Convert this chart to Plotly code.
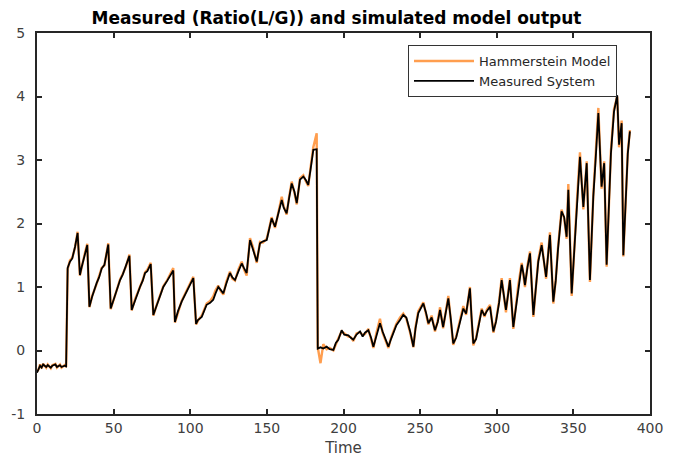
import plotly.graph_objects as go

# ---- data ----
time = [
    0, 1, 2, 3, 4, 6, 7, 9, 10, 12, 13, 15, 16, 18, 19,
    20, 21.5, 23, 24.8, 26.5, 28, 29, 30.2, 31.5, 32.8, 34.2, 36, 38.9, 40.5, 42.2, 44, 46.5, 48.1,
    50, 52, 54.2, 56, 58, 60.3, 61.8, 64, 67.2, 69, 70.5, 72, 74.2, 75.9, 78, 80, 82.4, 85, 87, 88.9, 90,
    92, 94.4, 96, 98, 100, 102, 103.8, 105, 107.5, 109, 110.7, 113, 115, 116.5, 118.3, 120, 121.6, 123.5, 125.9, 127.5, 129.2, 131.5, 133.6, 135, 136.8, 139,
    141, 143.4, 145.5, 147.5, 149.9, 151.5, 153.1, 155.3, 157.5, 159.7, 161, 162.9, 164.5, 166.2, 168, 169.5, 171.6, 173.8, 175.5, 177, 178.5, 180.3, 182.5,
    183.2, 185, 186.8, 189, 191, 193.4, 195, 196.6, 198.8, 200.5, 203.2, 204.8, 206.4, 208.5, 210.8, 212.5, 214, 216.2, 218, 219.5, 221.5, 223.8, 225.5, 227, 229.3, 231, 232.5, 234.5, 236.9, 239, 241, 243.5, 245.6,
    247, 248.8, 250.5, 252.1, 253.8, 255.4, 257.5, 259.7, 261.5, 263, 265, 266.5, 268.4, 270, 271.6, 273.5, 275.5, 278.2, 280, 281, 282.5, 283.5, 284.7, 286.5, 288.5, 290.2, 292, 293.5, 295.6, 297.8, 299.5,
    301.5, 303.2, 304.5, 306, 307.5, 308.6, 310.8, 312.5, 314, 316.3, 317.5, 318.4, 320, 321.7, 323.9, 325.5, 327.1, 329.3, 330.5, 332.2, 334.7, 336.9, 338.5, 340, 342.3, 344, 345.6,
    346.7, 348.9, 350.5, 352.5, 354.3, 356.5, 358.7, 360.8, 363, 364.5, 366.3, 368.4, 370.1, 371.7, 373, 374.5, 376.5, 378.6, 379.8, 381.5, 382.6, 384, 385.5, 386.9,
]

measured = [
    -0.35, -0.28, -0.24, -0.27, -0.22, -0.26, -0.23, -0.27, -0.24, -0.22, -0.26, -0.23, -0.26, -0.24, -0.25,
    1.30, 1.40, 1.45, 1.63, 1.85, 1.19, 1.30, 1.43, 1.55, 1.66, 0.69, 0.85, 1.06, 1.15, 1.29, 1.35, 1.67, 0.66,
    0.80, 0.95, 1.11, 1.20, 1.33, 1.49, 0.64, 0.80, 1.00, 1.10, 1.22, 1.25, 1.36, 0.56, 0.70, 0.85, 1.00, 1.10, 1.18, 1.26, 0.45,
    0.62, 0.77, 0.85, 0.95, 1.05, 1.14, 0.42, 0.48, 0.53, 0.62, 0.72, 0.75, 0.80, 0.90, 1.00, 0.95, 0.90, 1.05, 1.22, 1.15, 1.11, 1.25, 1.37, 1.30, 1.22, 1.74,
    1.60, 1.40, 1.69, 1.72, 1.74, 1.90, 2.08, 1.95, 2.15, 2.37, 2.25, 2.16, 2.40, 2.63, 2.50, 2.32, 2.69, 2.74, 2.68, 2.61, 2.85, 3.16, 3.17,
    0.03, 0.05, 0.03, 0.06, 0.02, 0.01, 0.12, 0.17, 0.32, 0.25, 0.24, 0.20, 0.17, 0.25, 0.30, 0.22, 0.28, 0.32, 0.20, 0.06, 0.25, 0.43, 0.30, 0.20, 0.06, 0.18, 0.27, 0.40, 0.48, 0.56, 0.52, 0.30, 0.06,
    0.35, 0.59, 0.68, 0.74, 0.60, 0.43, 0.52, 0.32, 0.45, 0.64, 0.37, 0.55, 0.82, 0.50, 0.11, 0.20, 0.40, 0.66, 0.58, 0.75, 0.98, 0.55, 0.11, 0.18, 0.45, 0.64, 0.55, 0.62, 0.69, 0.30, 0.45,
    0.75, 1.11, 0.90, 0.64, 0.90, 1.11, 0.37, 0.70, 1.00, 1.35, 1.20, 1.03, 1.30, 1.53, 0.56, 1.00, 1.40, 1.66, 1.45, 1.16, 1.82, 0.77, 1.10, 1.60, 2.19, 2.10, 1.79,
    2.53, 0.90, 1.60, 2.40, 3.05, 2.26, 2.95, 1.11, 2.42, 3.00, 3.74, 2.58, 2.95, 1.35, 2.10, 3.10, 3.76, 4.02, 3.24, 3.58, 1.50, 2.30, 3.10, 3.45,
]

model = [
    -0.33, -0.30, -0.22, -0.28, -0.21, -0.27, -0.22, -0.28, -0.23, -0.21, -0.27, -0.22, -0.27, -0.23, -0.26,
    1.28, 1.42, 1.46, 1.62, 1.87, 1.18, 1.31, 1.42, 1.56, 1.68, 0.68, 0.86, 1.05, 1.16, 1.30, 1.34, 1.69, 0.65,
    0.81, 0.94, 1.12, 1.21, 1.32, 1.51, 0.63, 0.81, 0.99, 1.11, 1.23, 1.27, 1.38, 0.55, 0.71, 0.84, 1.01, 1.11, 1.20, 1.30, 0.44,
    0.61, 0.78, 0.86, 0.96, 1.06, 1.16, 0.41, 0.47, 0.55, 0.64, 0.74, 0.78, 0.85, 0.95, 1.02, 0.93, 0.88, 1.08, 1.24, 1.13, 1.10, 1.28, 1.40, 1.28, 1.18, 1.77,
    1.62, 1.38, 1.71, 1.70, 1.76, 1.92, 2.10, 1.93, 2.17, 2.42, 2.27, 2.14, 2.42, 2.66, 2.48, 2.30, 2.71, 2.76, 2.66, 2.59, 2.88, 3.20, 3.42,
    0.05, -0.20, 0.10, 0.02, 0.04, 0.00, 0.10, 0.19, 0.30, 0.27, 0.22, 0.21, 0.15, 0.27, 0.29, 0.24, 0.26, 0.34, 0.18, 0.04, 0.28, 0.50, 0.28, 0.18, 0.04, 0.20, 0.29, 0.42, 0.52, 0.58, 0.50, 0.28, 0.05,
    0.37, 0.62, 0.70, 0.76, 0.58, 0.41, 0.55, 0.30, 0.47, 0.68, 0.35, 0.57, 0.86, 0.48, 0.09, 0.22, 0.42, 0.70, 0.56, 0.77, 1.00, 0.53, 0.08, 0.20, 0.47, 0.66, 0.53, 0.64, 0.72, 0.28, 0.47,
    0.77, 1.14, 0.88, 0.60, 0.92, 1.14, 0.34, 0.72, 1.02, 1.38, 1.18, 1.00, 1.33, 1.56, 0.53, 1.02, 1.43, 1.70, 1.43, 1.13, 1.86, 0.74, 1.12, 1.63, 2.22, 2.08, 1.76,
    2.62, 0.86, 1.63, 2.43, 3.12, 2.22, 2.98, 1.08, 2.45, 3.05, 3.82, 2.55, 2.98, 1.32, 2.12, 3.14, 3.80, 4.00, 3.20, 3.62, 1.48, 2.33, 3.13, 3.47,
]

x_ticks = [0, 50, 100, 150, 200, 250, 300, 350, 400]
y_ticks = [-1, 0, 1, 2, 3, 4, 5]

title_text = "Measured (Ratio(L/G)) and simulated model output"
x_label = "Time"
series_names = ["Hammerstein Model", "Measured System"]

FONT = "DejaVu Sans, Liberation Sans, Arial, sans-serif"
AX = "#262626"

fig = go.Figure()
fig.add_trace(go.Scatter(x=time, y=model, mode="lines", name=series_names[0],
                         line=dict(color="#FF9E4F", width=2.4)))
fig.add_trace(go.Scatter(x=time, y=measured, mode="lines", name=series_names[1],
                         line=dict(color="#000000", width=1.8)))

axis_common = dict(showline=True, linewidth=2, linecolor=AX, mirror="allticks",
                   ticks="inside", ticklen=5, tickwidth=1.5, tickcolor=AX,
                   showgrid=False, zeroline=False, automargin=False,
                   tickfont=dict(family=FONT, size=14, color="#404040"))

fig.update_layout(
    width=673, height=459,
    margin=dict(l=37, r=23, t=33, b=45),
    paper_bgcolor="white", plot_bgcolor="white",
    title=dict(text="<b>" + title_text + "</b>", x=0.5, xanchor="center",
               y=1 - 18 / 459, yanchor="middle",
               font=dict(family=FONT, size=17, color="#000000")),
    xaxis=dict(range=[0, 400], tickvals=x_ticks, ticktext=[str(v) for v in x_ticks],
               title=dict(text=x_label, font=dict(family=FONT, size=15, color="#404040"), standoff=8),
               **axis_common),
    yaxis=dict(range=[-1, 5], tickvals=y_ticks, ticktext=[str(v) for v in y_ticks],
               ticklabelstandoff=7, **axis_common),
    legend=dict(x=(408 - 37) / 613, y=(414 - 45) / 381, xanchor="left", yanchor="top",
                bgcolor="white", bordercolor="#333333", borderwidth=1,
                font=dict(family=FONT, size=13, color="#262626"),
                tracegroupgap=0, itemwidth=60),
    showlegend=True,
)

fig.write_html("out.html")
